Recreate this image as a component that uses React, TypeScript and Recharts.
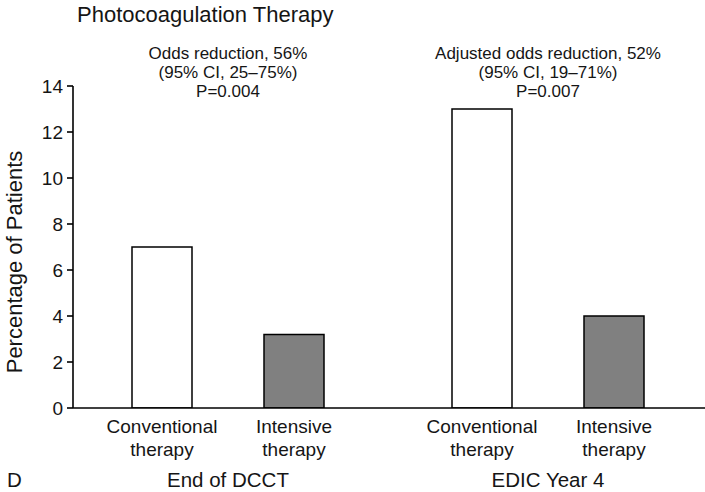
import { BarChart, Bar, XAxis, YAxis, LabelList } from 'recharts';

const groups = ['End of DCCT', 'EDIC Year 4'];
const conventional = [7, 13];
const intensive = [3.2, 4];
const yTicks = [0, 2, 4, 6, 8, 10, 12, 14];
const annotations = [
  ['Odds reduction, 56%', '(95% CI, 25–75%)', 'P=0.004'],
  ['Adjusted odds reduction, 52%', '(95% CI, 19–71%)', 'P=0.007'],
];
const conventionalLabel = ['Conventional', 'therapy'];
const intensiveLabel = ['Intensive', 'therapy'];

const FONT = '"Liberation Sans", Arial, sans-serif';
const INK = '#151515';

const data = groups.map((g, i) => ({
  group: g,
  conventional: conventional[i],
  intensive: intensive[i],
}));

// group name under the axis + stats annotation above the bars
function GroupTick(props: any) {
  const { x, payload, index } = props;
  const lines = annotations[index] || [];
  return (
    <g fontFamily={FONT} fill={INK}>
      <text x={x} y={487} textAnchor="middle" fontSize={20.5} fill={INK}>
        {payload.value}
      </text>
      {lines.map((t, i) => (
        <text key={i} x={x} y={59 + i * 19} textAnchor="middle" fontSize={17} fill={INK}>
          {t}
        </text>
      ))}
    </g>
  );
}

// two-line label under each bar
const barLabel = (lines: string[]) => (props: any) => {
  const vb = props.viewBox ?? props;
  const cx = vb.x + vb.width / 2;
  const bottom = vb.y + vb.height;
  return (
    <g fontFamily={FONT}>
      {lines.map((t, i) => (
        <text key={i} x={cx} y={bottom + 25 + i * 23} textAnchor="middle" fontSize={19} fill={INK}>
          {t}
        </text>
      ))}
    </g>
  );
};

export default function App() {
  return (
    <div style={{ position: 'absolute', left: 0, top: 0, width: 705, height: 492, background: '#fff' }}>
      <BarChart
        width={705}
        height={492}
        data={data}
        margin={{ top: 86, right: 0, left: 13, bottom: 24 }}
        barSize={60}
        barGap={72}
      >
        <text x={77} y={22} fontFamily={FONT} fontSize={22} fill={INK}>
          Photocoagulation Therapy
        </text>
        <text x={7} y={487} fontFamily={FONT} fontSize={20.5} fill={INK}>
          D
        </text>
        <text
          x={14}
          y={262}
          transform="rotate(-90 14 262)"
          textAnchor="middle"
          dominantBaseline="central"
          fontFamily={FONT}
          fontSize={22}
          fill={INK}
        >
          Percentage of Patients
        </text>
        <XAxis
          dataKey="group"
          height={60}
          padding={{ left: -5, right: -3 }}
          axisLine={{ stroke: '#000', strokeWidth: 1.6 }}
          tickLine={false}
          tick={<GroupTick />}
          interval={0}
        />
        <YAxis
          width={60}
          domain={[0, 14]}
          ticks={yTicks}
          allowDataOverflow
          axisLine={{ stroke: '#000', strokeWidth: 1.6 }}
          tickLine={{ stroke: '#000', strokeWidth: 1.6 }}
          tickSize={6}
          tickMargin={4}
          tick={{ fontSize: 19, fontFamily: FONT, fill: INK }}
        />
        <Bar dataKey="conventional" fill="#ffffff" stroke="#000" strokeWidth={1.5} isAnimationActive={false}>
          <LabelList dataKey="conventional" content={barLabel(conventionalLabel)} />
        </Bar>
        <Bar dataKey="intensive" fill="#808080" stroke="#000" strokeWidth={1.5} isAnimationActive={false}>
          <LabelList dataKey="intensive" content={barLabel(intensiveLabel)} />
        </Bar>
      </BarChart>
    </div>
  );
}
